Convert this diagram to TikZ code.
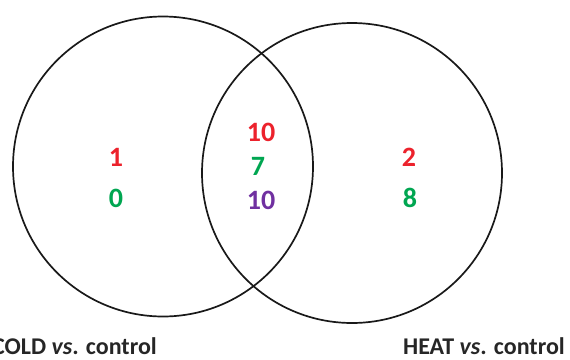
\documentclass[tikz,border=0pt]{standalone}
\usepackage{fontspec}
\setmainfont{Carlito}
\definecolor{vred}{RGB}{236,34,44}
\definecolor{vgreen}{RGB}{0,166,81}
\definecolor{vpurple}{RGB}{112,48,160}
\begin{document}
\begin{tikzpicture}[x=1pt,y=-1pt,
  setc/.style={draw=black!90,line width=1.7pt},
  num/.style={font=\fontsize{28}{28}\selectfont\bfseries,inner sep=0pt},
  lab/.style={font=\fontsize{24}{24}\selectfont\bfseries,inner sep=0pt,text=black!85}]
\useasboundingbox (0,0) rectangle (570,359);
\draw[setc] (163,166.5) circle[radius=150];
\draw[setc] (352,173) circle[radius=150];
\node[num,text=vred] (a1) at (116,157) {1};
\node[num,text=vgreen] (a2) at (116,198) {0};
\node[num,text=vred] (b1) at (261,132) {10};
\node[num,text=vgreen] (b2) at (258,166) {7};
\node[num,text=vpurple] (b3) at (261,200) {10};
\node[num,text=vred] (c1) at (409,157) {2};
\node[num,text=vgreen] (c2) at (410,198) {8};
\node[lab,anchor=base east] (l1) at (157,354) {COLD \textit{vs}. control};
\node[lab,anchor=base east] (l2) at (565,354) {HEAT \textit{vs}. control};
\end{tikzpicture}
\end{document}
